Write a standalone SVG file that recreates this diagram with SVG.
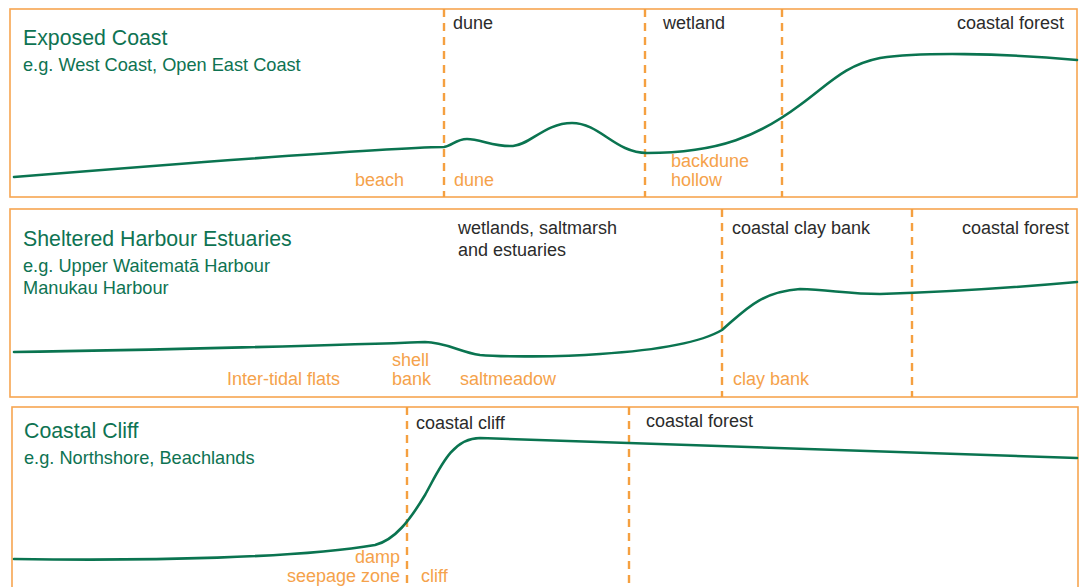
<svg xmlns="http://www.w3.org/2000/svg" width="1084" height="587" viewBox="0 0 1084 587">
<style>
.panel{fill:#fff;stroke:#F7A550;stroke-width:1.6}
.div{stroke:#F5A040;stroke-width:2.4;stroke-dasharray:8 6;fill:none}
.ground{fill:none;stroke:#0A7450;stroke-width:2.6;stroke-linecap:round}
.title{font-family:"Liberation Sans",Arial,sans-serif;font-size:21.3px;fill:#0E7352}
.sub{font-family:"Liberation Sans",Arial,sans-serif;font-size:18.2px;fill:#0E7352}
.zone{font-family:"Liberation Sans",Arial,sans-serif;font-size:18px;fill:#2B2B2B}
.feat{font-family:"Liberation Sans",Arial,sans-serif;font-size:18px;fill:#F5A24B}
</style>
<rect width="1084" height="587" fill="#fff"/>
<g id="panel-exposed">
<rect class="panel" x="10" y="9" width="1067" height="188"/>
<line class="div" x1="444" y1="9" x2="444" y2="197"/>
<line class="div" x1="645" y1="9" x2="645" y2="197"/>
<line class="div" x1="782" y1="9" x2="782" y2="197"/>
<path class="ground" d="M14,177 C200,162 380,148 444,147 C452,146 456,139 467,139 C480,139 495,147 513,146 C530,145 545,123 572,123 C600,123 615,153 647,153 C720,153 760,135 800,105 C830,83 845,65 880,58 C920,52 1000,53 1077,60"/>
<text class="title" x="23" y="45">Exposed Coast</text>
<text class="sub" x="23" y="71">e.g. West Coast, Open East Coast</text>
<text class="zone" x="453" y="29">dune</text>
<text class="zone" x="663" y="29">wetland</text>
<text class="zone" x="1064" y="29" text-anchor="end">coastal forest</text>
<text class="feat" x="355" y="186">beach</text>
<text class="feat" x="454" y="186">dune</text>
<text class="feat" x="671" y="167">backdune</text>
<text class="feat" x="671" y="186">hollow</text>
</g>
<g id="panel-sheltered">
<rect class="panel" x="10" y="209" width="1067" height="188"/>
<line class="div" x1="722" y1="209" x2="722" y2="397"/>
<line class="div" x1="912" y1="209" x2="912" y2="397"/>
<path class="ground" d="M14,352 C150,350 350,345 425,342 C445,342 460,352 480,355 C500,357 560,357 600,354 C660,350 700,343 722,330 C745,310 760,292 800,289 C830,290 850,294 880,294 C950,292 1010,288 1077,282"/>
<text class="title" x="23" y="246">Sheltered Harbour Estuaries</text>
<text class="sub" x="23" y="272">e.g. Upper Waitematā Harbour</text>
<text class="sub" x="23" y="294">Manukau Harbour</text>
<text class="zone" x="458" y="234">wetlands, saltmarsh</text>
<text class="zone" x="458" y="256">and estuaries</text>
<text class="zone" x="732" y="234">coastal clay bank</text>
<text class="zone" x="1069" y="234" text-anchor="end">coastal forest</text>
<text class="feat" x="227" y="385">Inter-tidal flats</text>
<text class="feat" x="392" y="366">shell</text>
<text class="feat" x="392" y="385">bank</text>
<text class="feat" x="460" y="385">saltmeadow</text>
<text class="feat" x="733" y="385">clay bank</text>
</g>
<g id="panel-cliff">
<rect class="panel" x="12" y="407" width="1066" height="200"/>
<line class="div" x1="407" y1="407" x2="407" y2="587"/>
<line class="div" x1="629" y1="407" x2="629" y2="587"/>
<path class="ground" d="M14,559 C150,561 300,558 375,545 C395,540 410,520 425,495 C440,468 452,438 480,438 L1077,458"/>
<text class="title" x="24" y="438">Coastal Cliff</text>
<text class="sub" x="24" y="464">e.g. Northshore, Beachlands</text>
<text class="zone" x="416" y="429">coastal cliff</text>
<text class="zone" x="646" y="427">coastal forest</text>
<text class="feat" x="400" y="563" text-anchor="end">damp</text>
<text class="feat" x="400" y="582" text-anchor="end">seepage zone</text>
<text class="feat" x="421" y="582">cliff</text>
</g>
</svg>
